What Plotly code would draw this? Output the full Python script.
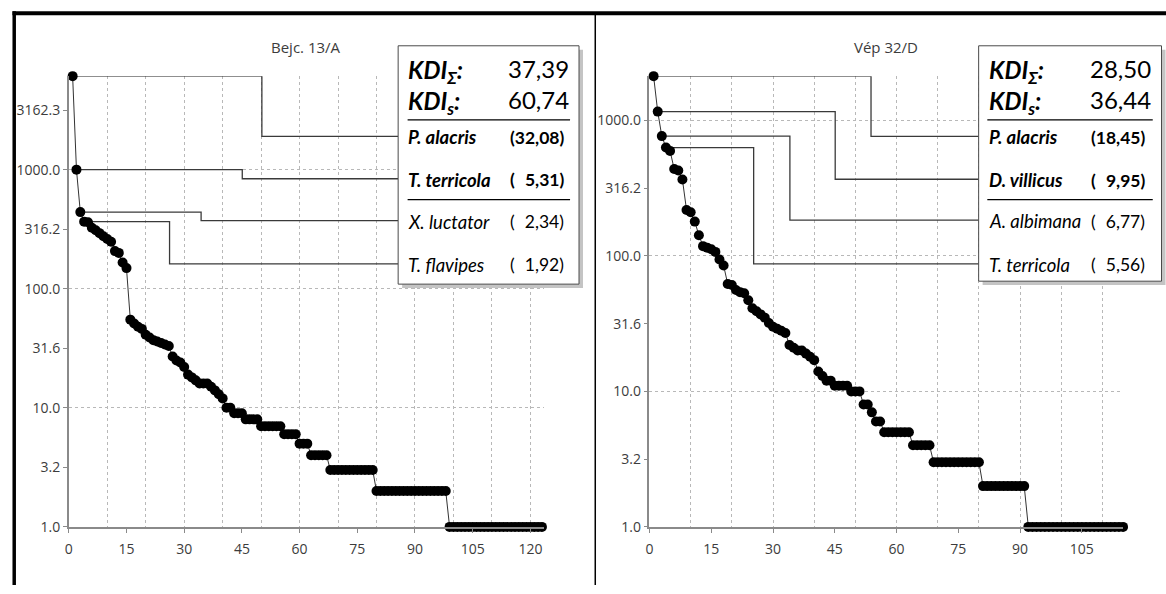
import math
import plotly.graph_objects as go

W, H = 1166, 594

# ---------------- data ----------------
left_title = "Bejc. 13/A"
right_title = "Vép 32/D"

left_values = [
    6100, 1000, 440, 366, 362, 325, 310, 293, 276, 262, 248, 207, 200, 166, 149,
    55, 51, 48, 46, 41, 39, 37, 36, 35, 34, 33, 27, 25, 24, 22, 19, 18, 17, 16, 16,
    16, 15, 14, 13, 12, 10, 10,
    9, 9, 9,
    8, 8, 8, 8,
    7, 7, 7, 7, 7, 7,
    6, 6, 6, 6,
    5, 5, 5,
    4, 4, 4, 4, 4,
    3, 3, 3, 3, 3, 3, 3, 3, 3, 3, 3, 3,
    2, 2, 2, 2, 2, 2, 2, 2, 2, 2, 2, 2, 2, 2, 2, 2, 2, 2, 2,
    1, 1, 1, 1, 1, 1, 1, 1, 1, 1, 1, 1, 1, 1, 1, 1, 1, 1, 1, 1, 1, 1, 1, 1, 1,
]

right_values = [
    2120, 1160, 765, 630, 595, 437, 426, 366, 218, 210, 179, 142, 118, 115, 112,
    107, 94, 85, 62, 61, 56, 54, 53, 47, 41, 39, 37, 35, 32, 30, 29, 28, 27, 22,
    21, 20, 20, 19, 18, 17, 14, 13, 12, 12, 11, 11, 11, 11, 10, 10, 10, 8, 8, 7,
    6, 6,
    5, 5, 5, 5, 5, 5, 5,
    4, 4, 4, 4, 4,
    3, 3, 3, 3, 3, 3, 3, 3, 3, 3, 3, 3,
    2, 2, 2, 2, 2, 2, 2, 2, 2, 2, 2,
    1, 1, 1, 1, 1, 1, 1, 1, 1, 1, 1, 1, 1, 1, 1, 1, 1, 1, 1, 1, 1, 1, 1, 1,
]

y_tick_vals = [1.0, 3.1623, 10.0, 31.623, 100.0, 316.23, 1000.0, 3162.3]
y_tick_labels = ["1.0", "3.2", "10.0", "31.6", "100.0", "316.2", "1000.0", "3162.3"]
y_grid_vals = [10.0, 100.0, 1000.0]
left_x_ticks = [0, 15, 30, 45, 60, 75, 90, 105, 120]
right_x_ticks = [0, 15, 30, 45, 60, 75, 90, 105]
left_x_grid = [10, 20, 30, 40, 50, 60, 70, 80, 90, 100, 110, 120]
right_x_grid = [10, 20, 30, 40, 50, 60, 70, 80, 90, 100, 110]

left_kdi = ["37,39", "60,74"]
right_kdi = ["28,50", "36,44"]
left_species = ["P. alacris", "T. terricola", "X. luctator", "T. flavipes"]
left_species_vals = ["(32,08)", "(\u20075,31)", "(\u20072,34)", "(\u20071,92)"]
right_species = ["P. alacris", "D. villicus", "A. albimana", "T. terricola"]
right_species_vals = ["(18,45)", "(\u20079,95)", "(\u20076,77)", "(\u20075,56)"]
species_bold = [True, True, False, False]

# leader-line bend positions (x in data units)
left_bend_x = [50.2, 45.1, 34.4, 26.2]
right_bend_x = [53.8, 45.1, 34.1, 25.3]

# ---------------- layout geometry (pixels) ----------------
PLOT_TOP, PLOT_BOTTOM = 77.3, 535.0
panels = {
    "left": dict(x0=65.0, x1=541.7, xmax=123.5, values=left_values, title=left_title,
                 xticks=left_x_ticks, xgrid=left_x_grid, bend=left_bend_x,
                 box=(395.5, 46.5, 577.0, 288.5), kdi=left_kdi, sp=left_species,
                 spv=left_species_vals, rows=[138.5, 181.5, 224.0, 268.0],
                 text_l=405.0, kdi_r=567.0, spv_r=562.0, sep=(405.0, 568.0),
                 xa="xaxis", ya="yaxis", xr="x", yr="y"),
    "right": dict(x0=647.7, x1=1123.3, xmax=115.1, values=right_values, title=right_title,
                  xticks=right_x_ticks, xgrid=right_x_grid, bend=right_bend_x,
                  box=(978.0, 46.5, 1161.5, 285.5), kdi=right_kdi, sp=right_species,
                  spv=right_species_vals, rows=[138.5, 182.0, 223.5, 268.0],
                  text_l=988.0, kdi_r=1151.0, spv_r=1144.5, sep=(986.7, 1152.7),
                  xa="xaxis2", ya="yaxis2", xr="x2", yr="y2"),
}


def xp(px):
    return px / W


def yp(py):
    return 1 - py / H


fig = go.Figure()
layout = dict(
    width=W, height=H, margin=dict(l=0, r=0, t=0, b=0),
    paper_bgcolor="white", plot_bgcolor="white", showlegend=False,
    shapes=[], annotations=[],
)

AX_COLOR = "#8a8a8a"
GRID_COLOR = "#b8b8b8"
TICK_FONT = dict(family="Open Sans, Noto Sans, sans-serif", size=14, color="#3c3c3c")
BOX_FONT = "Lato, Carlito, Calibri, sans-serif"

for key, p in panels.items():
    vals = p["values"]
    n = len(vals)
    xs = list(range(1, n + 1))
    ytop_log = math.log10(vals[0])

    def px_to_x(px, p=p):
        return (px - p["x0"]) / (p["x1"] - p["x0"]) * p["xmax"]

    def py_to_v(py, ytop_log=ytop_log):
        return 10 ** ((PLOT_BOTTOM - py) / (PLOT_BOTTOM - PLOT_TOP) * ytop_log)

    box_x0, box_y0, box_x1, box_y1 = p["box"]
    # leader lines
    for i in range(4):
        lv = py_to_v(p["rows"][i])
        fig.add_trace(go.Scatter(
            x=[xs[i], p["bend"][i], p["bend"][i], px_to_x(box_x0)],
            y=[vals[i], vals[i], lv, lv],
            mode="lines", line=dict(color="#3a3a3a", width=1.3),
            xaxis=p["xr"], yaxis=p["yr"], hoverinfo="skip", cliponaxis=False,
        ))
    # data
    fig.add_trace(go.Scatter(
        x=xs, y=vals, mode="lines+markers",
        line=dict(color="#333333", width=1),
        marker=dict(color="black", size=10),
        xaxis=p["xr"], yaxis=p["yr"], cliponaxis=False,
    ))

    xdom = [xp(p["x0"]), xp(p["x1"])]
    ydom = [yp(PLOT_BOTTOM), yp(PLOT_TOP)]
    layout[p["xa"]] = dict(
        domain=xdom, range=[0, p["xmax"]], anchor=p["yr"],
        tickmode="array", tickvals=p["xticks"], ticktext=[str(t) for t in p["xticks"]],
        ticks="outside", ticklen=4, tickcolor=AX_COLOR, tickwidth=1,
        ticklabelstandoff=5,
        showline=True, linecolor=AX_COLOR, linewidth=1.5,
        showgrid=False, zeroline=False, tickfont=TICK_FONT,
        minor=dict(tickmode="array", tickvals=p["xgrid"], showgrid=True,
                   gridcolor=GRID_COLOR, griddash="dot", gridwidth=1,
                   ticks="inside", ticklen=0),
    )
    ytv = [v for v in y_tick_vals if v <= vals[0] * 1.001]
    ytl = y_tick_labels[:len(ytv)]
    layout[p["ya"]] = dict(
        domain=ydom, type="log", range=[0, ytop_log], anchor=p["xr"],
        tickmode="array", tickvals=ytv, ticktext=ytl,
        ticks="outside", ticklen=4, tickcolor=AX_COLOR, tickwidth=1,
        showline=True, linecolor=AX_COLOR, linewidth=1.5,
        showgrid=False, zeroline=False, tickfont=TICK_FONT,
        minor=dict(tickmode="array", tickvals=[v for v in y_grid_vals if v < vals[0]],
                   showgrid=True, gridcolor=GRID_COLOR, griddash="dot", gridwidth=1,
                   ticks="inside", ticklen=0),
    )

    # title
    layout["annotations"].append(dict(
        text=p["title"], xref="paper", yref="paper",
        x=xp((p["x0"] + p["x1"]) / 2), y=yp(48), xanchor="center", yanchor="middle",
        showarrow=False, font=dict(family="Open Sans, Noto Sans, sans-serif", size=15, color="#3c3c3c"),
    ))

    # legend box: shadow, box, separators
    layout["shapes"].append(dict(type="rect", xref="paper", yref="paper", layer="above",
                                 x0=xp(box_x0 + 4), x1=xp(box_x1 + 4), y0=yp(box_y1 + 4), y1=yp(box_y0 + 4),
                                 fillcolor="#c4c4c4", line=dict(width=0)))
    layout["shapes"].append(dict(type="rect", xref="paper", yref="paper", layer="above",
                                 x0=xp(box_x0), x1=xp(box_x1), y0=yp(box_y1), y1=yp(box_y0),
                                 fillcolor="white", line=dict(color="#4a4a4a", width=1)))
    for sy in (121.7, 202.7):
        layout["shapes"].append(dict(type="line", xref="paper", yref="paper", layer="above",
                                     x0=xp(p["sep"][0]), x1=xp(p["sep"][1]), y0=yp(sy), y1=yp(sy),
                                     line=dict(color="black", width=1.2)))

    # KDI lines
    kdi_labels = ["<b><i>KDI<sub>Σ</sub>:</i></b>", "<b><i>KDI<sub>s</sub>:</i></b>"]
    for j, (lab, val, cy) in enumerate(zip(kdi_labels, p["kdi"], [73.0, 104.0])):
        layout["annotations"].append(dict(
            text=lab, xref="paper", yref="paper", x=xp(p["text_l"] - 2), y=yp(cy),
            xanchor="left", yanchor="middle", showarrow=False,
            font=dict(family=BOX_FONT, size=24, color="black")))
        layout["annotations"].append(dict(
            text=val, xref="paper", yref="paper", x=xp(p["kdi_r"] + 2), y=yp(cy - 3),
            xanchor="right", yanchor="middle", showarrow=False,
            font=dict(family=BOX_FONT, size=24, color="black")))

    for j in range(4):
        name, val = p["sp"][j], p["spv"][j]
        if species_bold[j]:
            t1, t2 = f"<b><i>{name}</i></b>", f"<b>{val}</b>"
        else:
            t1, t2 = f"<i>{name}</i>", val
        cy = p["rows"][j]
        layout["annotations"].append(dict(
            text=t1, xref="paper", yref="paper", x=xp(p["text_l"] - 2), y=yp(cy + 1),
            xanchor="left", yanchor="middle", showarrow=False,
            font=dict(family=BOX_FONT, size=18.5, color="black")))
        layout["annotations"].append(dict(
            text=t2, xref="paper", yref="paper", x=xp(p["spv_r"] + 2), y=yp(cy + 1),
            xanchor="right", yanchor="middle", showarrow=False,
            font=dict(family=BOX_FONT, size=17.5, color="black")))

# outer frame
layout["shapes"].append(dict(type="rect", xref="paper", yref="paper", layer="above",
                             x0=xp(8.5), x1=1.0, y0=yp(15.5), y1=yp(11.5),
                             fillcolor="black", line=dict(width=0)))
layout["shapes"].append(dict(type="rect", xref="paper", yref="paper", layer="above",
                             x0=xp(8.5), x1=xp(12.0), y0=0.0, y1=yp(11.5),
                             fillcolor="black", line=dict(width=0)))
layout["shapes"].append(dict(type="line", xref="paper", yref="paper", layer="above",
                             x0=xp(593.3), x1=xp(593.3), y0=0.0, y1=yp(14),
                             line=dict(color="black", width=1.5)))

fig.update_layout(**layout)
fig.write_html("out.html")
